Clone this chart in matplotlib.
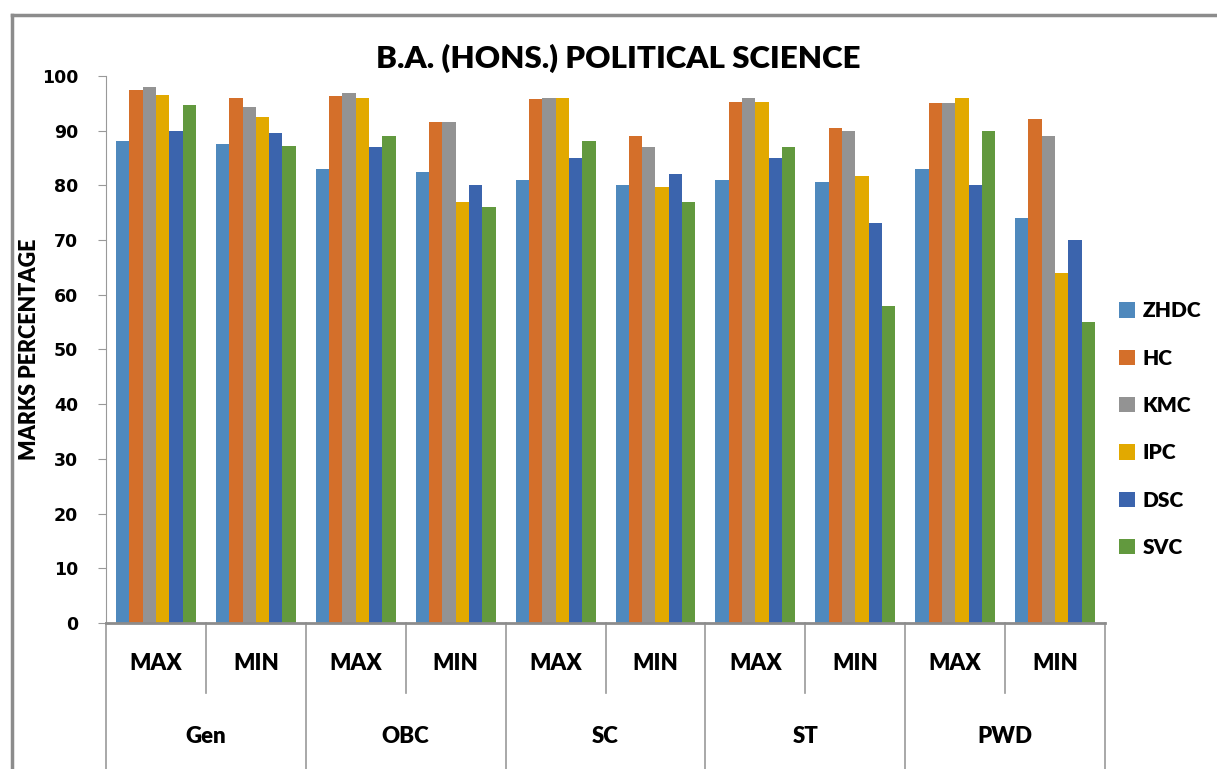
# B.A. (Hons.) Political Science - cut-off marks by college and category
import numpy as np
import matplotlib.pyplot as plt
from matplotlib.lines import Line2D

# Data
groups = ["Gen", "OBC", "SC", "ST", "PWD"]
levels = ["MAX", "MIN"]
colleges = ["ZHDC", "HC", "KMC", "IPC", "DSC", "SVC"]
colors = ["#4F89BD", "#D46F2A", "#939393", "#E2A900", "#3B64AD", "#62993E"]

# values per college, order: Gen MAX, Gen MIN, OBC MAX, OBC MIN, SC MAX, SC MIN, ST MAX, ST MIN, PWD MAX, PWD MIN
zhdc = [88.1, 87.6, 83.0, 82.4, 81.0, 80.1, 81.0, 80.6, 83.0, 74.0]
hc = [97.4, 96.0, 96.3, 91.6, 95.8, 89.0, 95.2, 90.5, 95.1, 92.1]
kmc = [98.0, 94.3, 96.9, 91.6, 96.0, 87.0, 96.0, 89.9, 95.1, 89.0]
ipc = [96.5, 92.5, 96.0, 77.0, 96.0, 79.7, 95.2, 81.7, 96.0, 64.0]
dsc = [89.9, 89.6, 87.0, 80.1, 85.0, 82.1, 85.0, 73.1, 80.0, 70.0]
svc = [94.7, 87.2, 89.0, 76.1, 88.1, 77.0, 87.0, 58.0, 89.9, 55.0]
series = [zhdc, hc, kmc, ipc, dsc, svc]

bold = "Lato"
wt = "heavy"

# Figure
fig = plt.figure(figsize = (12.17, 7.69), dpi = 100)
ax = fig.add_axes([0.0871, 0.1899, 0.8209, 0.7113])

n_cat = len(groups) * len(levels)
x = np.arange(n_cat)
width = 0.8 / len(colleges)
for i, (vals, col, name) in enumerate(zip(series, colors, colleges)):
    ax.bar(x - 0.4 + width * (i + 0.5), vals, width, color = col, label = name)

ax.set_xlim(-0.5, n_cat - 0.5)
ax.set_ylim(0, 100)
ax.set_yticks(np.arange(0, 101, 10))
ax.tick_params(axis = "y", length = 6, color = "#999999", labelsize = 12.5, pad = 14)
for lab in ax.get_yticklabels():
    lab.set_fontweight("bold")
ax.set_xticks([])
for side in ["top", "right"]:
    ax.spines[side].set_visible(False)
ax.spines["left"].set_color("#999999")
ax.spines["bottom"].set_color("#8C8C8C")
ax.spines["bottom"].set_linewidth(2)

ax.set_ylabel("MARKS PERCENTAGE", fontsize = 15.5, fontweight = wt, family = bold)
ax.yaxis.set_label_coords(-0.066, 0.5)

# Multi-level category axis
trans = ax.get_xaxis_transform()
for k in range(n_cat + 1):
    xe = k - 0.5
    low = -0.268 if k % 2 == 0 else -0.128
    ax.plot([xe, xe], [0, low], transform = trans, color = "#999999", lw = 1.2, clip_on = False)
for k in range(n_cat):
    ax.text(k, -0.075, levels[k % 2], transform = trans, ha = "center", va = "center",
            fontsize = 16, fontweight = wt, family = bold)
for g, name in enumerate(groups):
    ax.text(2 * g + 0.5, -0.207, name, transform = trans, ha = "center", va = "center",
            fontsize = 16, fontweight = wt, family = bold)

# Title
fig.text(0.508, 0.924, "B.A. (HONS.) POLITICAL SCIENCE", ha = "center", va = "center",
         fontsize = 22.5, fontweight = wt, family = bold)

# Legend
leg = fig.legend(loc = "center left", bbox_to_anchor = (0.904, 0.442), frameon = False,
                 prop = {"family": bold, "weight": wt, "size": 15},
                 handlelength = 0.75, handleheight = 0.75, handletextpad = 0.4, labelspacing = 1.36)

# Chart frame
fig.add_artist(Line2D([0.0099, 1.0], [0.9805, 0.9805], color = "#8C8C8C", lw = 2.5))
fig.add_artist(Line2D([0.0099, 0.0099], [0.0, 0.9805], color = "#8C8C8C", lw = 2.5))

plt.savefig("out.png", dpi = 100)
